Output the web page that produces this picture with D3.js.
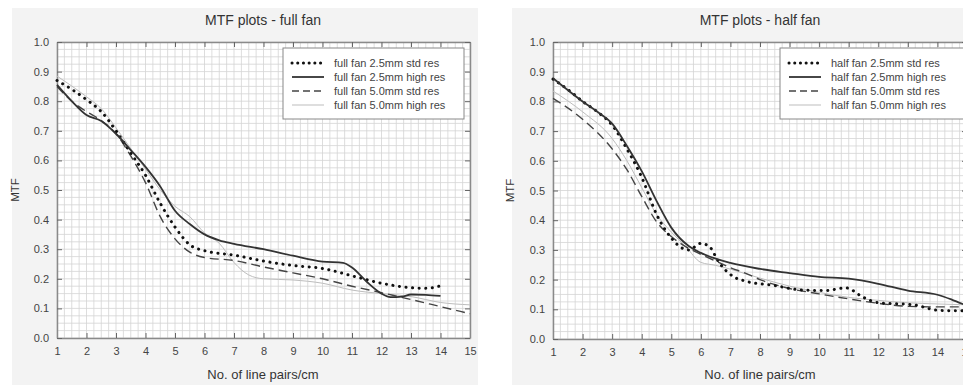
<!DOCTYPE html>
<html>
<head>
<meta charset="utf-8">
<script src="https://cdn.jsdelivr.net/npm/d3@7"></script>
<style>
  body { margin: 0; background: #fff; }
  svg { display: block; font-family: "Liberation Sans", Arial, sans-serif; }
</style>
</head>
<body>
<svg id="chart" width="963" height="385"></svg>
<script>
// x ticks and y ticks shared by both panels
const xTicks = [1, 2, 3, 4, 5, 6, 7, 8, 9, 10, 11, 12, 13, 14, 15];
const yTicks = [0, 0.1, 0.2, 0.3, 0.4, 0.5, 0.6, 0.7, 0.8, 0.9, 1.0];

// full fan series [lp/cm, MTF]
const fullStd25 = [[1,0.87],[1.5,0.84],[2,0.805],[2.5,0.765],[3,0.70],[3.5,0.625],[4,0.55],[4.5,0.455],[5,0.375],[5.5,0.315],[6,0.295],[7,0.28],[8,0.26],[9,0.245],[10,0.235],[11,0.21],[12,0.185],[13,0.17],[13.5,0.168],[14,0.176]];
const fullHigh25 = [[1,0.855],[1.5,0.80],[2,0.753],[2.5,0.733],[3,0.69],[3.5,0.635],[4,0.578],[4.5,0.512],[5,0.43],[5.5,0.385],[6,0.35],[6.5,0.33],[7,0.318],[8,0.30],[9,0.278],[10,0.258],[10.7,0.254],[11,0.238],[11.5,0.19],[12,0.15],[12.3,0.138],[12.7,0.14],[13,0.147],[13.5,0.146],[14,0.142]];
const fullStd50 = [[1,0.85],[1.5,0.80],[2,0.765],[2.5,0.735],[3,0.69],[3.5,0.615],[4,0.525],[4.5,0.41],[5,0.335],[5.5,0.29],[6,0.272],[7,0.262],[8,0.24],[9,0.22],[10,0.2],[11,0.175],[12,0.153],[13,0.13],[14,0.106],[15,0.082]];
const fullHigh50 = [[1,0.885],[2,0.815],[2.5,0.775],[3,0.71],[3.5,0.64],[4,0.57],[4.5,0.5],[5,0.445],[5.5,0.41],[6,0.355],[6.5,0.32],[7,0.255],[7.5,0.213],[8,0.2],[9,0.196],[10,0.185],[11,0.162],[12,0.15],[13,0.14],[14,0.12],[15,0.112]];

// half fan series
const halfStd25 = [[1,0.875],[1.5,0.84],[2,0.80],[2.5,0.765],[3,0.72],[3.5,0.64],[4,0.545],[4.5,0.42],[5,0.34],[5.3,0.31],[5.6,0.30],[6,0.322],[6.3,0.31],[6.6,0.26],[7.1,0.21],[7.5,0.195],[8.5,0.18],[9.3,0.166],[10.2,0.163],[10.9,0.172],[11.5,0.14],[12,0.122],[13.2,0.115],[14,0.097],[14.7,0.095],[15.2,0.1]];
const halfHigh25 = [[1,0.878],[2,0.80],[2.5,0.765],[3,0.725],[3.5,0.65],[4,0.565],[4.5,0.465],[5,0.375],[5.6,0.312],[6,0.29],[7,0.256],[8,0.236],[9,0.222],[10,0.209],[11,0.203],[12,0.186],[13,0.163],[14,0.149],[14.5,0.132],[15,0.112],[15.3,0.1]];
const halfStd50 = [[1,0.81],[2,0.74],[3,0.64],[3.5,0.57],[4,0.48],[4.5,0.395],[5,0.345],[5.5,0.31],[6,0.285],[6.6,0.258],[7,0.24],[7.5,0.222],[8,0.20],[9,0.17],[10,0.152],[11,0.135],[12,0.12],[13,0.11],[14,0.108],[15,0.108],[15.3,0.108]];
const halfHigh50 = [[1,0.835],[2,0.765],[3,0.675],[3.5,0.60],[4,0.51],[4.5,0.42],[5,0.36],[5.5,0.31],[6,0.258],[6.5,0.248],[7,0.235],[8,0.205],[9,0.178],[10,0.157],[11,0.14],[12,0.13],[13,0.122],[14,0.118],[15,0.115]];

const fullLabels = ['full fan 2.5mm std res', 'full fan 2.5mm high res', 'full fan 5.0mm std res', 'full fan 5.0mm high res'];
const halfLabels = ['half fan 2.5mm std res', 'half fan 2.5mm high res', 'half fan 5.0mm std res', 'half fan 5.0mm high res'];

// line styles, in legend order
const styles = [
  { stroke: '#111', width: 3, dash: '0.1 6.5', cap: 'round' },
  { stroke: '#333', width: 1.8, dash: null, cap: 'butt' },
  { stroke: '#444', width: 1.4, dash: '9 5', cap: 'butt' },
  { stroke: '#bdbdbd', width: 1, dash: null, cap: 'butt' }
];

const svg = d3.select('#chart');

function drawPanel(cfg) {
  const g = svg.append('g');

  g.append('rect')
    .attr('x', cfg.bg[0]).attr('y', cfg.bg[1])
    .attr('width', cfg.bg[2]).attr('height', cfg.bg[3])
    .attr('fill', '#f3f3f3');

  const x = d3.scaleLinear().domain([1, 15]).range([cfg.left, cfg.right]);
  const y = d3.scaleLinear().domain([0, 1]).range([cfg.bottom, cfg.top]);

  g.append('rect')
    .attr('x', cfg.left).attr('y', cfg.top)
    .attr('width', cfg.right - cfg.left).attr('height', cfg.bottom - cfg.top)
    .attr('fill', '#fff');

  // fine grid
  const grid = g.append('g').attr('stroke', '#d4d4d4').attr('stroke-width', 0.8);
  d3.range(1, 15.001, 0.25).forEach(v => {
    grid.append('line').attr('x1', x(v)).attr('x2', x(v)).attr('y1', y(0)).attr('y2', y(1));
  });
  d3.range(0, 1.0001, 0.025).forEach(v => {
    grid.append('line').attr('x1', x(1)).attr('x2', x(15)).attr('y1', y(v)).attr('y2', y(v));
  });

  // axes with inward ticks on all sides
  const axisStyle = sel => {
    sel.select('.domain').attr('stroke', '#8a8a8a').attr('stroke-width', 1.5);
    sel.selectAll('.tick line').attr('stroke', '#666');
    sel.selectAll('.tick text').attr('fill', '#444').style('font-size', '11px')
      .style('font-family', '"Liberation Sans", Arial, sans-serif');
  };

  g.append('g').attr('transform', `translate(0,${cfg.bottom})`)
    .call(d3.axisBottom(x).tickValues(xTicks).tickFormat(d3.format('d')).tickSizeInner(-5).tickSizeOuter(0).tickPadding(9))
    .call(axisStyle);
  g.append('g').attr('transform', `translate(0,${cfg.top})`)
    .call(d3.axisTop(x).tickValues(xTicks).tickFormat('').tickSizeInner(-5).tickSizeOuter(0))
    .call(axisStyle);
  g.append('g').attr('transform', `translate(${cfg.left},0)`)
    .call(d3.axisLeft(y).tickValues(yTicks).tickFormat(d3.format('.1f')).tickSizeInner(-5).tickSizeOuter(0).tickPadding(8))
    .call(axisStyle);
  g.append('g').attr('transform', `translate(${cfg.right},0)`)
    .call(d3.axisRight(y).tickValues(yTicks).tickFormat('').tickSizeInner(-5).tickSizeOuter(0))
    .call(axisStyle);

  const line = d3.line().x(d => x(d[0])).y(d => y(d[1])).curve(d3.curveMonotoneX);

  // draw light line first so dark ones sit on top
  [3, 2, 0, 1].forEach(i => {
    const s = styles[i];
    g.append('path')
      .datum(cfg.series[i])
      .attr('d', line)
      .attr('fill', 'none')
      .attr('stroke', s.stroke)
      .attr('stroke-width', s.width)
      .attr('stroke-linecap', s.cap)
      .attr('stroke-dasharray', s.dash);
  });

  // titles
  g.append('text')
    .attr('x', cfg.titleX).attr('y', 25)
    .attr('text-anchor', 'middle')
    .attr('fill', '#333')
    .style('font-size', '14px')
    .text(cfg.title);

  g.append('text')
    .attr('x', cfg.titleX).attr('y', 379)
    .attr('text-anchor', 'middle')
    .attr('fill', '#333')
    .style('font-size', '13px')
    .text('No. of line pairs/cm');

  g.append('text')
    .attr('transform', `translate(${cfg.yLabelX},${y(0.5)}) rotate(-90)`)
    .attr('text-anchor', 'middle')
    .attr('fill', '#333')
    .style('font-size', '11.5px')
    .text('MTF');

  // legend
  const lg = g.append('g');
  lg.append('rect')
    .attr('x', cfg.legendX).attr('y', 48)
    .attr('width', cfg.legendW).attr('height', 71)
    .attr('fill', '#fff').attr('stroke', '#888').attr('stroke-width', 1);

  cfg.labels.forEach((lab, i) => {
    const s = styles[i];
    const ry = 63 + i * 14;
    lg.append('line')
      .attr('x1', cfg.legendX + 9).attr('x2', cfg.legendX + 41)
      .attr('y1', ry).attr('y2', ry)
      .attr('stroke', s.stroke)
      .attr('stroke-width', s.width)
      .attr('stroke-linecap', s.cap)
      .attr('stroke-dasharray', i === 0 ? '0.1 5.6' : (i === 2 ? '7 4' : s.dash));
    lg.append('text')
      .attr('x', cfg.legendX + 51).attr('y', ry + 4)
      .attr('fill', '#444')
      .style('font-size', '11px')
      .text(lab);
  });
}

drawPanel({
  title: 'MTF plots - full fan',
  bg: [12, 8, 466, 377],
  left: 57, right: 470, top: 42, bottom: 338,
  titleX: 263, yLabelX: 19,
  legendX: 283, legendW: 181,
  labels: fullLabels,
  series: [fullStd25, fullHigh25, fullStd50, fullHigh50]
});

drawPanel({
  title: 'MTF plots - half fan',
  bg: [512, 8, 460, 377],
  left: 553, right: 967, top: 42, bottom: 339,
  titleX: 760, yLabelX: 514,
  legendX: 780, legendW: 190,
  labels: halfLabels,
  series: [halfStd25, halfHigh25, halfStd50, halfHigh50]
});
</script>
</body>
</html>
